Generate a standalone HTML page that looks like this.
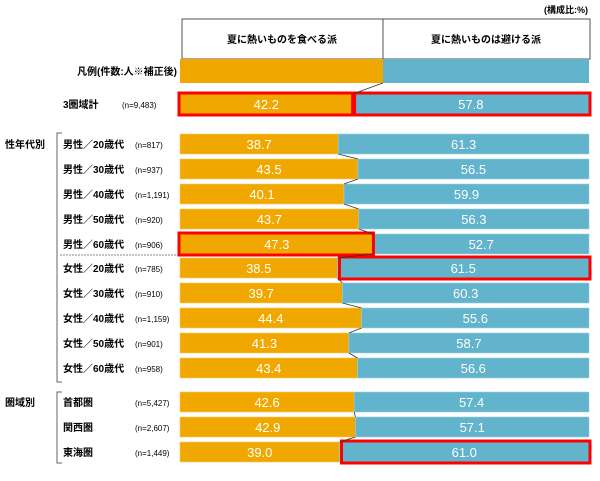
<!DOCTYPE html>
<html><head><meta charset="utf-8"><style>
body{margin:0;background:#fff;width:600px;height:476px;overflow:hidden;font-family:"Liberation Sans","Noto Sans CJK JP",sans-serif}
svg text{font-family:"Liberation Sans","Noto Sans CJK JP",sans-serif}
</style></head><body>
<svg id="chart" width="600" height="476" xmlns="http://www.w3.org/2000/svg">
<text x="588" y="13" font-size="9" text-anchor="end" font-weight="bold">(構成比:%)</text>
<rect x="182" y="19" width="408" height="40" fill="#fff" stroke="#555" stroke-width="1"/>
<line x1="383" y1="19" x2="383" y2="59" stroke="#555"/>
<text x="282" y="43" font-size="10" text-anchor="middle" font-weight="bold">夏に熱いものを食べる派</text>
<text x="486" y="43" font-size="10" text-anchor="middle" font-weight="bold">夏に熱いものは避ける派</text>
<rect x="180" y="59" width="203" height="24" fill="#f0a800"/>
<rect x="383" y="59" width="206" height="24" fill="#62b3cc"/>
<text x="177" y="75" font-size="10" text-anchor="end" font-weight="bold">凡例(件数:人※補正後)</text>
<text x="5" y="148" font-size="10" font-weight="bold">性年代別</text>
<text x="5" y="406" font-size="10" font-weight="bold">圏域別</text>
<path d="M62 133 H57 V382 H62" fill="none" stroke="#666"/>
<path d="M62 392 H57 V463 H62" fill="none" stroke="#666"/>
<line x1="60" y1="255" x2="360" y2="255" stroke="#888" stroke-dasharray="2,1"/>
<g id="bars"></g>
</svg>
<script>
const categories=["3圏域計","男性／20歳代","男性／30歳代","男性／40歳代","男性／50歳代","男性／60歳代","女性／20歳代","女性／30歳代","女性／40歳代","女性／50歳代","女性／60歳代","首都圏","関西圏","東海圏"];
const counts=["(n=9,483)","(n=817)","(n=937)","(n=1,191)","(n=920)","(n=906)","(n=785)","(n=910)","(n=1,159)","(n=901)","(n=958)","(n=5,427)","(n=2,607)","(n=1,449)"];
const eatValues=[42.2,38.7,43.5,40.1,43.7,47.3,38.5,39.7,44.4,41.3,43.4,42.6,42.9,39.0];
const avoidValues=[57.8,61.3,56.5,59.9,56.3,52.7,61.5,60.3,55.6,58.7,56.6,57.4,57.1,61.0];
const highlightEat=[1,0,0,0,0,1,0,0,0,0,0,0,0,0];
const highlightAvoid=[1,0,0,0,0,0,1,0,0,0,0,0,0,1];
const rowTops=[94,134,159,184,209,234,258,283,308,333,358,392,417,442];
const X0=180,W=409,H=20;
const xs=v=>X0+v/100*W;
const g=document.getElementById('bars');
const NS="http://www.w3.org/2000/svg";
function mk(t,a){const e=document.createElementNS(NS,t);for(const k in a)e.setAttribute(k,a[k]);g.appendChild(e);return e;}
categories.forEach((c,i)=>{
  const y=rowTops[i];const s=xs(eatValues[i]);const tot=eatValues[i]+avoidValues[i];const e2=xs(tot);
  const l=mk('text',{x:63,y:y+14,'font-size':10,'font-weight':'bold'});l.textContent=c;
  
  
  const n=mk('text',{x:i==0?122:135,y:y+14,'font-size':8});n.textContent=counts[i];
  
  
  const b1=mk('rect',{x:X0,y:y,width:s-X0,height:H,fill:'#f0a800',stroke:'#f6c860','stroke-width':0.6});
  
  
  const b2=mk('rect',{x:s,y:y,width:e2-s,height:H,fill:'#62b3cc',stroke:'#9ad0e0','stroke-width':0.6});
  
  
  const t1=mk('text',{x:(X0+s)/2,y:y+15,'font-size':13,fill:'#fff','text-anchor':'middle'});t1.textContent=eatValues[i].toFixed(1);
  
  
  const t2=mk('text',{x:(s+e2)/2,y:y+15,'font-size':13,fill:'#fff','text-anchor':'middle'});t2.textContent=avoidValues[i].toFixed(1);
  
  
  if(highlightEat[i]){const r=mk('rect',{x:X0-1,y:y-1,width:s-X0+1,height:H+2,fill:'none',stroke:'#f00','stroke-width':3});
    
    }
  if(highlightAvoid[i]){const r=mk('rect',{x:s+2,y:y-1,width:e2-s-1,height:H+2,fill:'none',stroke:'#f00','stroke-width':3});
    
    }
  if(i>1&&i!==11){const ps=xs(eatValues[i-1]);const ln=mk('line',{x1:ps,y1:rowTops[i-1]+H,x2:s,y2:y,stroke:'#333','stroke-width':0.8});
    
    }
});
const lc=mk('line',{x1:383,y1:83,x2:xs(eatValues[0]),y2:rowTops[0],stroke:'#333','stroke-width':0.8});


</script>
</body></html>
